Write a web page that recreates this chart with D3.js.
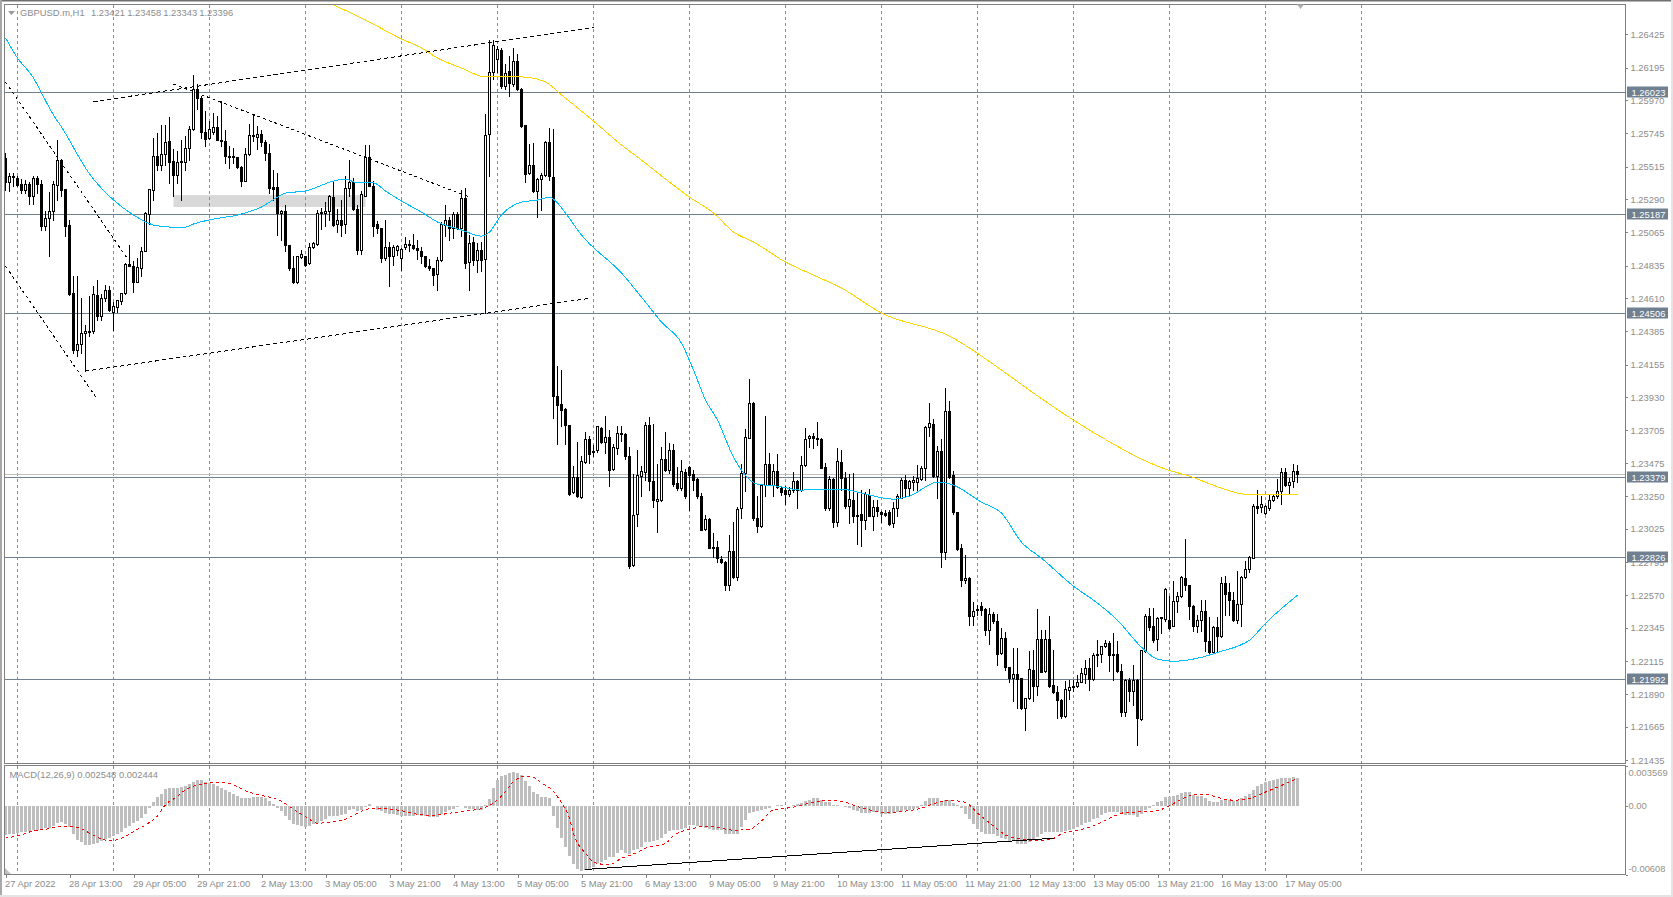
<!DOCTYPE html>
<html>
<head>
<meta charset="utf-8">
<title>GBPUSD.m,H1</title>
<script src="https://d3js.org/d3.v7.min.js"></script>
<style>
html, body { margin: 0; padding: 0; background: #fff; overflow: hidden; }
text { font-family: "Liberation Sans", sans-serif; font-size: 9.4px; fill: #8c8c8c; }
</style>
</head>
<body>
<script>
// prices are kept in points (1.23456 -> 123456)
var opens = [
125572,125405,125442,125437,125396,125350,125396,125309,125435,125396,
125102,125157,125208,125387,125559,125355,125112,124644,124250,124296,
124369,124376,124380,124633,124484,124610,124667,124516,124548,124587,
124644,124846,124832,124717,124816,124933,125183,125350,125588,125522,
125602,125685,125552,125453,125543,125547,125641,125772,126047,125983,
125753,125708,125749,125785,125698,125689,125588,125584,125579,125510,
125414,125602,125730,125717,125735,125680,125607,125373,125373,125192,
125208,124974,124818,124717,124892,124896,124850,124960,124983,125190,
125190,125208,125304,125121,125148,125121,125364,125405,125222,124937,
125309,125575,125382,125121,125093,124882,124960,124896,124942,124882,
124958,124983,124974,124953,124931,124896,124832,124816,124772,124869,
125114,125148,125089,125183,125093,125297,124855,124995,124869,124937,
124878,125735,126161,126253,126317,126065,126166,126083,126239,126047,
125795,125465,125524,125343,125428,125455,125682,125442,123938,123883,
123847,123737,123274,123379,123241,123484,123640,123558,123562,123716,
123617,123654,123434,123576,123682,123675,123526,122774,123122,123388,
123411,123737,123351,123214,123223,123503,123429,123565,123338,123301,
123416,123448,123397,123365,123251,123021,123090,122900,122898,122815,
122797,122636,122870,122691,123163,123406,123645,123888,123095,123044,
123324,123466,123324,123420,123306,123292,123260,123287,123351,123287,
123461,123645,123661,123647,123640,123448,123164,123365,123067,123484,
123374,123177,123223,123120,123127,123086,123257,123113,123173,123138,
123131,123138,123063,123164,123237,123361,123301,123347,123347,123365,
123439,123723,123746,123388,123558,122861,123833,123393,123141,122893,
122668,122687,122421,122472,122490,122471,122325,122437,122389,122169,
122272,122073,122000,122027,121995,121788,121857,122054,121944,122265,
122045,122265,121949,121903,121848,121733,121917,121935,121940,121972,
122027,122066,121990,122164,122164,122215,122238,122162,122162,122045,
121761,121985,121905,121985,121715,122180,122426,122352,122265,122409,
122403,122398,122352,122526,122563,122684,122639,122494,122352,122393,
122455,122254,122178,122348,122283,122650,122586,122536,122393,122504,
122691,122746,122822,123182,123173,123131,123168,123219,123251,123283,
123416,123324,123351,123421];

var closes = [
125405,125451,125446,125389,125350,125396,125313,125435,125391,125102,
125157,125208,125396,125559,125350,125107,124639,124250,124296,124369,
124383,124385,124637,124484,124610,124667,124525,124552,124594,124644,
124843,124827,124717,124823,124935,125194,125355,125584,125522,125602,
125680,125547,125453,125543,125552,125641,125772,126047,125983,125749,
125703,125772,125785,125698,125689,125584,125579,125575,125510,125414,
125602,125730,125721,125735,125680,125607,125364,125359,125190,125208,
124970,124814,124722,124896,124912,124837,124960,124988,125194,125199,
125208,125313,125114,125148,125114,125366,125405,125222,124937,125327,
125575,125382,125107,125089,124882,124960,124896,124960,124965,124947,
124981,124976,124951,124937,124896,124827,124814,124770,124869,125121,
125144,125089,125183,125093,125297,124850,124988,124869,124937,124873,
125730,126161,126349,126322,126065,126157,126088,126239,126047,125790,
125460,125524,125343,125428,125455,125680,125446,123933,123876,123842,
123737,123264,123379,123246,123489,123640,123539,123553,123727,123617,
123654,123429,123585,123682,123672,123526,122769,123118,123393,123420,
123737,123351,123219,123228,123503,123429,123565,123333,123301,123420,
123251,123393,123361,123246,123017,123090,122893,122893,122820,122792,
122636,122870,122691,123159,123406,123654,123888,123095,123044,123324,
123471,123333,123420,123310,123278,123260,123292,123351,123287,123461,
123640,123661,123645,123640,123443,123164,123365,123067,123489,123370,
123182,123228,123113,123115,123086,123264,123113,123173,123145,123125,
123118,123058,123166,123251,123361,123301,123351,123356,123374,123441,
123723,123750,123384,123558,122861,123833,123379,123141,122884,122668,
122684,122421,122458,122467,122462,122325,122437,122389,122164,122272,
122073,122000,122027,121990,121788,121857,122059,121944,122265,122040,
122265,121944,121898,121843,121733,121921,121935,121940,121972,122031,
122066,121990,122157,122153,122219,122238,122155,122155,122043,121761,
121985,121905,121985,121720,122187,122426,122348,122260,122409,122414,
122609,122343,122526,122563,122691,122639,122490,122352,122398,122458,
122249,122178,122348,122283,122650,122577,122531,122393,122506,122691,
122746,122829,123182,123168,123191,123182,123223,123251,123283,123416,
123324,123347,123420,123396];

var highs = [
125607,125469,125469,125446,125428,125423,125405,125451,125446,125423,
125206,125341,125412,125698,125565,125355,125148,124759,124759,124610,
124426,124626,124690,124736,124639,124701,124694,124584,124598,124644,
124850,124970,124862,124885,124960,125203,125359,125708,125744,125795,
125795,125854,125630,125618,125698,125721,125790,126143,126077,125996,
125893,125824,125882,125863,125962,125767,125653,125641,125579,125515,
125641,125808,125877,125790,125767,125698,125671,125492,125469,125212,
125245,124974,124896,124901,124942,124901,124988,124992,125212,125229,
125272,125320,125412,125222,125286,125446,125556,125432,125245,125343,
125664,125664,125412,125139,125093,125144,124997,124970,124970,124951,
125029,125011,125052,125011,124960,124896,124878,124816,124892,125130,
125245,125167,125203,125203,125350,125366,125043,125029,124988,124992,
125877,126381,126381,126340,126329,126214,126271,126329,126283,126051,
125799,125671,125675,125432,125465,125685,125779,125772,124140,124117,
123850,123737,123452,123622,123526,123691,123659,123601,123732,123723,
123801,123704,123608,123727,123727,123682,123585,123402,123567,123452,
123755,123792,123741,123471,123585,123691,123613,123608,123448,123494,
123434,123452,123429,123370,123269,123118,123095,122994,122939,122834,
122799,122980,123067,123173,123471,123709,124053,123892,123246,123333,
123801,123544,123471,123539,123315,123315,123310,123411,123361,123526,
123718,123666,123682,123755,123647,123475,123384,123370,123576,123562,
123411,123402,123406,123274,123287,123274,123296,123219,123223,123143,
123154,123150,123209,123260,123372,123393,123356,123388,123464,123452,
123727,123888,123778,123594,123640,123989,123899,123420,123141,122921,
122845,122691,122522,122499,122522,122476,122480,122448,122439,122341,
122311,122073,122203,122203,121997,121859,122180,122187,122474,122329,
122325,122426,122187,121940,121853,121974,121985,121981,122020,122066,
122123,122134,122169,122260,122219,122256,122251,122306,122249,122095,
121990,121997,122089,121990,122192,122435,122480,122476,122416,122416,
122616,122563,122662,122591,122701,122955,122639,122501,122432,122531,
122531,122416,122352,122416,122691,122701,122650,122586,122735,122696,
122799,122833,123191,123292,123246,123189,123264,123264,123365,123439,
123439,123372,123466,123458];

var lows = [
125350,125343,125377,125382,125332,125332,125258,125258,125332,125075,
125075,124901,125148,125286,125309,125034,124630,124231,124209,124231,
124105,124346,124369,124461,124461,124587,124520,124392,124511,124571,
124639,124827,124649,124717,124759,124933,125121,125286,125488,125488,
125526,125400,125313,125400,125286,125488,125556,125763,125905,125708,
125657,125703,125733,125694,125653,125538,125504,125538,125504,125382,
125412,125593,125687,125634,125653,125561,125332,125286,125045,125011,
124931,124800,124713,124713,124885,124827,124846,124953,124976,125080,
125102,125148,125102,125061,125038,125057,125309,125212,124914,124914,
125309,125377,125038,125057,124859,124873,124694,124839,124908,124800,
124947,124931,124947,124878,124850,124821,124800,124701,124662,124862,
125038,125011,125020,125084,125038,124814,124662,124839,124786,124793,
124507,125446,126111,126161,126054,126047,125996,126065,126042,125781,
125405,125460,125336,125167,125212,125446,125419,123787,123608,123732,
123604,123257,123269,123241,123237,123475,123475,123526,123553,123613,
123544,123319,123429,123539,123627,123503,122751,122769,123040,123251,
123356,123292,123173,122999,123212,123418,123406,123319,123287,123292,
123232,123154,123292,123235,123012,123012,122889,122829,122797,122788,
122600,122604,122687,122673,123099,123283,123645,123086,122999,123035,
123246,123326,123246,123303,123257,123196,123251,123274,123164,123280,
123457,123585,123581,123601,123439,123154,123154,123035,123040,123292,
123164,123063,123067,122916,122902,123021,123109,123017,123109,123067,
123113,123051,123035,123109,123235,123241,123246,123292,123280,123361,
123361,123659,123379,123235,122760,122815,123370,123127,122875,122627,
122650,122364,122364,122432,122432,122295,122233,122375,122089,122164,
122054,121967,121836,121791,121784,121642,121853,121836,121882,122036,
122040,121935,121894,121722,121722,121729,121853,121905,121935,121967,
121962,121917,121985,122077,122105,122210,122043,121981,122036,121733,
121733,121836,121814,121538,121710,122173,122325,122242,122192,122306,
122387,122334,122352,122453,122554,122604,122403,122318,122315,122318,
122180,122157,122173,122173,122279,122432,122432,122387,122375,122352,
122684,122723,122822,123131,123136,123127,123154,123212,123235,123191,
123315,123264,123310,123343];

// moving averages, read every few bars
var blueBars = [0,3,7,9,12,14,21,27,32,37,41,45,47,52,58,64,68,70,75,82,85,88,92,95,99,104,108,114,119,121,124,129,133,136,138,140,144,154,160,164,169,172,175,178,182,188,193,199,203,209,214,222,226,233,237,244,249,254,259,267,273,278,284,288,292,299,304,308,311,315,323];
var blueValues = [126400,126262,126125,126022,125870,125788,125465,125286,125183,125114,125100,125100,125121,125155,125183,125238,125306,125334,125348,125416,125430,125403,125403,125348,125279,125203,125135,125080,125038,125066,125183,125272,125286,125306,125265,125196,125045,124784,124584,124447,124302,124117,123911,123773,123519,123333,123319,123292,123299,123299,123271,123230,123251,123347,123326,123209,123134,122934,122824,122632,122515,122398,122212,122130,122116,122143,122185,122219,122260,122377,122570];
var yellowBars = [82,90,99,104,108,114,120,129,135,139,147,154,158,171,177,182,187,195,202,209,219,236,249,257,267,277,284,290,296,304,310,323];
var yellowValues = [126627,126523,126393,126331,126262,126193,126132,126132,126097,126008,125829,125664,125581,125306,125196,125066,124997,124860,124770,124681,124509,124351,124117,123959,123773,123608,123505,123436,123388,123306,123264,123264];

var macdHist = [
-.00255,-.00249,-.00243,-.00237,-.00231,-.00225,-.00216,-.00210,-.00207,-.00202,
-.00196,-.00190,-.00172,-.00148,-.00142,-.00154,-.00184,-.00249,-.00296,-.00320,
-.00344,-.00344,-.00332,-.00326,-.00308,-.00290,-.00279,-.00267,-.00249,-.00231,
-.00196,-.00172,-.00148,-.00130,-.00107,-.00065,-.00018,.00041,.00083,.00113,
.00154,.00160,.00160,.00166,.00172,.00178,.00196,.00219,.00237,.00231,
.00219,.00207,.00196,.00184,.00166,.00148,.00130,.00113,.00095,.00077,
.00071,.00077,.00083,.00083,.00083,.00077,.00047,.00018,-.00012,-.00041,
-.00083,-.00119,-.00160,-.00166,-.00178,-.00184,-.00178,-.00160,-.00148,-.00130,
-.00113,-.00089,-.00083,-.00083,-.00077,-.00065,-.00036,-.00024,-.00041,-.00030,
-.00006,.00018,.00002,-.00030,-.00041,-.00059,-.00065,-.00071,-.00080,-.00083,
-.00083,-.00083,-.00083,-.00077,
-.00086,-.00089,-.00095,-.00098,-.00092,-.00071,-.00053,-.00036,-.00021,-.00006,
.00006,-.00012,-.00021,-.00024,-.00030,-.00036,.00009,.00068,.00166,.00231,
.00267,.00279,.00296,.00308,.00296,.00273,.00225,.00178,.00127,.00107,
.00083,.00083,.00071,-.00089,-.00190,
-.00279,-.00356,-.00436,-.00510,-.00554,-.00569,-.00563,-.00554,-.00539,-.00504,
-.00495,-.00474,-.00451,-.00445,-.00409,-.00385,-.00415,-.00421,-.00391,-.00379,
-.00362,-.00320,-.00314,-.00308,-.00296,-.00279,-.00249,-.00219,-.00213,-.00207,
-.00199,-.00190,-.00166,-.00169,-.00178,-.00184,-.00190,-.00199,-.00207,-.00213,
-.00213,-.00243,-.00249,-.00249,-.00243,-.00184,-.00119,-.00059,-.00050,-.00041,
-.00030,-.00021,-.00012,.00000,.00009,.00009,.00003,.00006,.00009,.00018,
.00030,.00044,.00059,.00071,.00077,.00059,.00039,.00039,.00009,.00009,
.00006,-.00006,-.00012,-.00030,-.00041,-.00059,-.00059,-.00059,-.00050,-.00050,
-.00065,-.00065,-.00065,-.00059,-.00053,-.00044,-.00036,-.00030,-.00021,-.00012,
.00009,.00047,.00071,.00077,.00077,.00036,.00059,.00053,.00030,.00009,
-.00012,-.00071,-.00110,-.00154,-.00199,-.00228,-.00243,-.00243,-.00249,-.00267,
-.00279,-.00285,-.00308,-.00308,-.00332,-.00338,-.00338,-.00320,-.00302,-.00273,
-.00249,-.00231,-.00231,-.00231,-.00231,-.00225,-.00219,-.00213,-.00199,-.00184,
-.00166,-.00148,-.00136,-.00113,-.00107,-.00077,-.00059,-.00047,-.00047,-.00047,
-.00065,-.00077,-.00077,-.00077,-.00095,-.00065,-.00036,-.00012,.00009,.00039,
.00047,.00083,.00083,.00089,.00098,.00119,.00130,.00124,.00101,.00095,
.00095,.00077,.00047,.00039,.00039,.00053,.00053,.00053,.00047,.00059,
.00071,.00089,.00107,.00142,.00178,.00196,.00213,.00225,.00231,.00243,
.00249,.00249,.00249,.00258,.00255];

var signalBars = [0,3,7,10,14,17,19,21,24,26,29,32,35,38,40,43,45,48,51,54,57,60,64,67,69,72,75,78,81,85,88,91,95,99,103,106,114,119,122,125,127,130,132,134,137,139,141,142,145,147,149,151,154,157,160,165,167,172,175,179,182,186,189,192,197,201,206,209,213,216,220,224,229,232,236,240,243,247,250,254,258,262,264,268,272,276,280,284,288,291,294,297,300,303,307,311,315,320,323];
var signalValues = [-.00285,-.00267,-.00222,-.00207,-.00184,-.00187,-.00202,-.00243,-.00293,-.00311,-.00288,-.00228,-.00169,-.00089,.00009,.00083,.00142,.00184,.00202,.00210,.00184,.00133,.00092,.00068,.00041,-.00030,-.00095,-.00154,-.00145,-.00119,-.00065,-.00027,-.00027,-.00044,-.00074,-.00083,-.00050,-.00024,.00024,.00127,.00216,.00261,.00252,.00202,.00127,.00024,-.00110,-.00243,-.00421,-.00495,-.00516,-.00519,-.00465,-.00427,-.00376,-.00332,-.00264,-.00199,-.00181,-.00199,-.00216,-.00207,-.00133,-.00036,-.00012,.00024,.00047,.00039,-.00006,-.00036,-.00059,-.00050,-.00021,.00018,.00047,.00030,-.00065,-.00178,-.00258,-.00296,-.00308,-.00288,-.00249,-.00216,-.00178,-.00110,-.00059,-.00053,-.00041,.00000,.00059,.00095,.00101,.00074,.00050,.00065,.00122,.00196,.00244];

var hLevels = [126023,125187,124506,123379,122826,121992];
var bidLevel = 123396;
var priceTicks = [126425,126195,125970,125745,125515,125290,125065,124835,124610,124385,124155,123930,123705,123475,123250,123025,122795,122570,122345,122115,121890,121665,121435];
var macdTicks = [0.003569,0,-0.00608];
var macdTickLabels = ["0.003569","0.00","-0.00608"];
var dateLabels = ["27 Apr 2022","28 Apr 13:00","29 Apr 05:00","29 Apr 21:00","2 May 13:00","3 May 05:00","3 May 21:00","4 May 13:00","5 May 05:00","5 May 21:00","6 May 13:00","9 May 05:00","9 May 21:00","10 May 13:00","11 May 05:00","11 May 21:00","12 May 13:00","13 May 05:00","13 May 21:00","16 May 13:00","17 May 05:00"];
var dateBars = dateLabels.map(function(d,i){ return i*16; });
var gridBars = d3.range(3,340,24);

// drawn objects: from bar, from price, to bar, to price
var channelLines = [[22,125962,147,126473],[20,124110,146,124610]];
var dottedLines = [[42,126083,116,125306],[0,126097,30.4,124887],[0,124832,22.9,123918]];
var macdLine = [145,-.00563,262,-.00287];
var zone = [42,125320,90,125238];

var W = 1673, H = 897;
var left = 4.5, right = 1625.5, top0 = 4.5, mainBottom = 763.5, macdTop = 765.5, macdBottom = 874.5;

var x = d3.scaleLinear().domain([0,323]).range([5.5,1297.5]);
var y = d3.scaleLinear().domain([121435,126425]).range([760.3,34.3]);
var yM = d3.scaleLinear().domain([-0.00608,0.003569]).range([macdBottom,macdTop]);
var py = function(v){ return Math.round(y(v)-.5)+.5; };
var pm = function(v){ return Math.round(yM(v)-.5)+.5; };

var svg = d3.select("body").append("svg").attr("width",W).attr("height",H).style("display","block");

// window frame
svg.append("rect").attr("x",0).attr("y",0).attr("width",W).attr("height",1.5).attr("fill","#707070");
svg.append("rect").attr("x",0).attr("y",0).attr("width",2).attr("height",H).attr("fill","#a8a8a8");
svg.append("rect").attr("x",1671).attr("y",0).attr("width",2).attr("height",H).attr("fill","#e4e4e4");
svg.append("rect").attr("x",0).attr("y",895).attr("width",W).attr("height",2).attr("fill","#e4e4e4");

var defs = svg.append("defs");
defs.append("clipPath").attr("id","mainClip").append("rect").attr("x",left).attr("y",top0).attr("width",right-left).attr("height",mainBottom-top0);
defs.append("clipPath").attr("id","macdClip").append("rect").attr("x",left).attr("y",macdTop).attr("width",right-left).attr("height",macdBottom-macdTop);

var main = svg.append("g").attr("clip-path","url(#mainClip)");
var macd = svg.append("g").attr("clip-path","url(#macdClip)");

main.append("rect").attr("x",x(zone[0])).attr("y",y(zone[1])).attr("width",x(zone[2])-x(zone[0])).attr("height",y(zone[3])-y(zone[1])).attr("fill","#d9d9d9");

// grid
[[main,top0,mainBottom],[macd,macdTop,macdBottom]].forEach(function(p){
  p[0].selectAll("line.grid").data(gridBars).enter().append("line").attr("class","grid")
    .attr("x1",function(d){ return x(d); }).attr("x2",function(d){ return x(d); })
    .attr("y1",p[1]).attr("y2",p[2])
    .attr("stroke","#8c8c8c").attr("stroke-dasharray","3,3").attr("shape-rendering","crispEdges");
});

// horizontal levels
main.append("line").attr("x1",left).attr("x2",right).attr("y1",py(bidLevel)).attr("y2",py(bidLevel))
  .attr("stroke","#c0c0c0").attr("shape-rendering","crispEdges");
main.selectAll("line.level").data(hLevels).enter().append("line").attr("class","level")
  .attr("x1",left).attr("x2",right)
  .attr("y1",function(d){ return py(d); }).attr("y2",function(d){ return py(d); })
  .attr("stroke","#708090").attr("shape-rendering","crispEdges");

// candles
var bars = d3.range(opens.length);
main.selectAll("line.wick").data(bars).enter().append("line").attr("class","wick")
  .attr("x1",function(i){ return x(i); }).attr("x2",function(i){ return x(i); })
  .attr("y1",function(i){ return py(highs[i])-.5; }).attr("y2",function(i){ return py(lows[i])+.5; })
  .attr("stroke","#000").attr("shape-rendering","crispEdges");
main.selectAll("rect.body").data(bars).enter().append("rect").attr("class","body")
  .attr("x",function(i){ return x(i)-1; }).attr("width",2)
  .attr("y",function(i){ return py(Math.max(opens[i],closes[i])); })
  .attr("height",function(i){ return Math.max(1,py(Math.min(opens[i],closes[i]))-py(Math.max(opens[i],closes[i]))); })
  .attr("fill",function(i){ return closes[i]>=opens[i] ? "#fff" : "#000"; })
  .attr("stroke","#000").attr("shape-rendering","crispEdges");

// moving averages
var maLine = d3.line().curve(d3.curveMonotoneX).x(function(d){ return x(d[0]); }).y(function(d){ return y(d[1]); });
main.append("path").attr("d",maLine(yellowBars.map(function(b,i){ return [b,yellowValues[i]]; })))
  .attr("fill","none").attr("stroke","#ffd700").attr("shape-rendering","crispEdges");
main.append("path").attr("d",maLine(blueBars.map(function(b,i){ return [b,blueValues[i]]; })))
  .attr("fill","none").attr("stroke","#00bfff").attr("shape-rendering","crispEdges");

// trend lines
main.selectAll("line.channel").data(channelLines).enter().append("line").attr("class","channel")
  .attr("x1",function(d){ return x(d[0]); }).attr("y1",function(d){ return y(d[1]); })
  .attr("x2",function(d){ return x(d[2]); }).attr("y2",function(d){ return y(d[3]); })
  .attr("stroke","#000").attr("stroke-dasharray","4,3").attr("shape-rendering","crispEdges");
main.selectAll("line.dotted").data(dottedLines).enter().append("line").attr("class","dotted")
  .attr("x1",function(d){ return x(d[0]); }).attr("y1",function(d){ return y(d[1]); })
  .attr("x2",function(d){ return x(d[2]); }).attr("y2",function(d){ return y(d[3]); })
  .attr("stroke","#000").attr("stroke-dasharray","3,3").attr("shape-rendering","crispEdges");

// macd panel
macd.selectAll("rect.hist").data(macdHist).enter().append("rect").attr("class","hist")
  .attr("x",function(d,i){ return x(i)-1.5; }).attr("width",3)
  .attr("y",function(d){ return Math.min(pm(d),pm(0)); })
  .attr("height",function(d){ return Math.abs(pm(d)-pm(0)); })
  .attr("fill","#bebebe").attr("shape-rendering","crispEdges");
macd.append("path")
  .attr("d",d3.line().curve(d3.curveMonotoneX).x(function(d){ return x(d); }).y(function(d,i){ return yM(signalValues[i]); })(signalBars))
  .attr("fill","none").attr("stroke","#f00").attr("stroke-dasharray","3,3").attr("shape-rendering","crispEdges");
macd.append("line").attr("x1",x(macdLine[0])).attr("y1",yM(macdLine[1])).attr("x2",x(macdLine[2])).attr("y2",yM(macdLine[3]))
  .attr("stroke","#000").attr("shape-rendering","crispEdges");

// panel borders
[[top0,mainBottom],[macdTop,macdBottom]].forEach(function(p){
  svg.append("rect").attr("x",left).attr("y",p[0]).attr("width",right-left).attr("height",p[1]-p[0])
    .attr("fill","none").attr("stroke","#808080").attr("shape-rendering","crispEdges");
});

// price axis
var yAxis = svg.append("g").attr("transform","translate("+right+",0)")
  .call(d3.axisRight(y).tickValues(priceTicks).tickSize(2).tickPadding(3).tickFormat(function(d){ return (d/1e5).toFixed(5); }));
yAxis.select(".domain").remove();
yAxis.selectAll("line").attr("stroke","#808080").attr("shape-rendering","crispEdges");
yAxis.selectAll("text").style("font-size","9.4px").style("font-family","Liberation Sans").style("fill","#8c8c8c");

// macd axis
var mAxis = svg.append("g").attr("transform","translate("+right+",0)")
  .call(d3.axisRight(yM).tickValues(macdTicks).tickSize(2).tickPadding(1).tickFormat(function(d,i){ return macdTickLabels[i]; }));
mAxis.select(".domain").remove();
mAxis.selectAll("line").attr("stroke","#808080").attr("shape-rendering","crispEdges");
mAxis.selectAll("text").style("font-size","9.4px").style("font-family","Liberation Sans").style("fill","#96918a")
  .attr("y",function(d,i){ return [6.5,0,-6.5][i]; });

// value boxes for the levels
var boxes = svg.selectAll("g.box").data(hLevels).enter().append("g").attr("class","box")
  .attr("transform",function(d){ return "translate(1627,"+py(d)+")"; });
boxes.append("rect").attr("x",0).attr("y",-6).attr("width",41).attr("height",11).attr("fill","#708090");
boxes.append("text").attr("x",4.5).attr("y",3.2).style("fill","#fff").text(function(d){ return (d/1e5).toFixed(5); });

// date axis
var xAxis = svg.append("g").attr("transform","translate(0,"+macdBottom+")")
  .call(d3.axisBottom(x).tickValues(dateBars).tickSize(3).tickPadding(3).tickFormat(function(d,i){ return dateLabels[i]; }));
xAxis.select(".domain").remove();
xAxis.selectAll("line").attr("stroke","#808080").attr("shape-rendering","crispEdges");
xAxis.selectAll("text").style("font-size","9.4px").style("font-family","Liberation Sans").style("fill","#8c8c8c").attr("text-anchor","start").attr("x",-1);

// titles
var titleParts = [[20,"GBPUSD.m,H1"],[91,"1.23421"],[127.3,"1.23458"],[163.3,"1.23343"],[199.3,"1.23396"]];
svg.selectAll("text.title").data(titleParts).enter().append("text").attr("class","title")
  .attr("x",function(d){ return d[0]; }).attr("y",16).text(function(d){ return d[1]; });
svg.append("text").attr("x",9.5).attr("y",778).text("MACD(12,26,9) 0.002548 0.002444");

// small markers
svg.append("path").attr("d","M8,11L15,11L11.5,15Z").attr("fill","#999");
svg.append("path").attr("d","M1297,4.5L1304,4.5L1300.5,9Z").attr("fill","#b0b0b0");
svg.append("path").attr("d","M5,868L5,874L11,874Z").attr("fill","#c0c0c0");
</script>
</body>
</html>
